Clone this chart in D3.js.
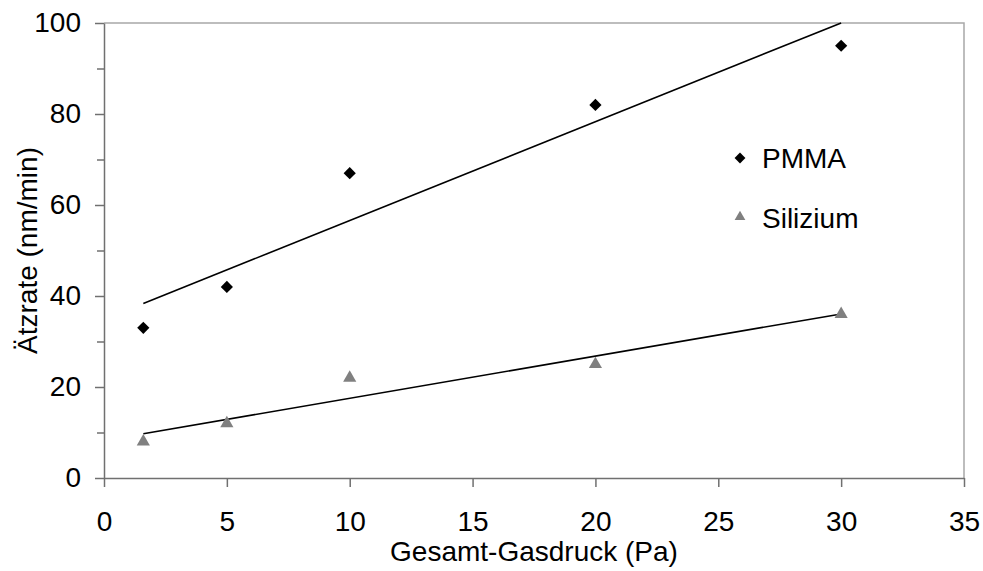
<!DOCTYPE html>
<html>
<head>
<meta charset="utf-8">
<script src="https://cdn.jsdelivr.net/npm/d3@7"></script>
<style>
  html, body { margin: 0; padding: 0; background: #fff; }
  svg { display: block; font-family: "Liberation Sans", Arial, sans-serif; }
</style>
</head>
<body>
<svg id="chart" width="983" height="571"></svg>
<script>
// Gas pressure (Pa) and etch rates (nm/min)
const pressure = [1.6, 5, 10, 20, 30];
const pmma = [33, 42, 67, 82, 95];
const silizium = [8, 12, 22, 25, 36];
const xTicks = [0, 5, 10, 15, 20, 25, 30, 35];
const yTicks = [0, 20, 40, 60, 80, 100];
const yMinorTicks = [10, 30, 50, 70, 90];

const FONT = 28;
const svg = d3.select("#chart");
const m = { left: 104, right: 964, top: 23, bottom: 478 };

const x = d3.scaleLinear().domain([0, 35]).range([m.left, m.right]);
const y = d3.scaleLinear().domain([0, 100]).range([m.bottom, m.top]);

// Plot frame: top and right edges
svg.append("path")
  .attr("d", `M${m.left},${m.top}H${m.right}V${m.bottom}`)
  .attr("fill", "none").attr("stroke", "#a8a8a8").attr("stroke-width", 1.5);

// Minor y ticks
const yMinor = svg.append("g").attr("transform", `translate(${m.left},0)`)
  .call(d3.axisLeft(y).tickValues(yMinorTicks).tickSize(7).tickFormat(""));
yMinor.select(".domain").remove();
yMinor.selectAll("line").attr("stroke", "#707070").attr("stroke-width", 1.5);

// Major y axis
const yAxis = svg.append("g").attr("transform", `translate(${m.left},0)`)
  .call(d3.axisLeft(y).tickValues(yTicks).tickSize(9).tickSizeOuter(0).tickPadding(14));
yAxis.select(".domain").attr("stroke", "#707070").attr("stroke-width", 1.5);
yAxis.selectAll("line").attr("stroke", "#707070").attr("stroke-width", 1.5);
yAxis.selectAll("text").attr("font-size", FONT).attr("fill", "#000")
  .attr("font-family", "Liberation Sans, Arial, sans-serif");

// x axis
const xAxis = svg.append("g").attr("transform", `translate(0,${m.bottom})`)
  .call(d3.axisBottom(x).tickValues(xTicks).tickSize(9).tickSizeOuter(0).tickPadding(24));
xAxis.select(".domain").attr("stroke", "#707070").attr("stroke-width", 1.5);
xAxis.selectAll("line").attr("stroke", "#707070").attr("stroke-width", 1.5);
xAxis.selectAll("text").attr("font-size", FONT).attr("fill", "#000")
  .attr("font-family", "Liberation Sans, Arial, sans-serif");

// Axis titles
svg.append("text")
  .attr("x", (m.left + m.right) / 2).attr("y", 561)
  .attr("text-anchor", "middle").attr("font-size", FONT)
  .text("Gesamt-Gasdruck (Pa)");
svg.append("text")
  .attr("transform", `translate(37,${(m.top + m.bottom) / 2}) rotate(-90)`)
  .attr("text-anchor", "middle").attr("font-size", FONT)
  .text("Ätzrate (nm/min)");

// Least-squares trend line over the measured range
function fit(xs, ys) {
  const mx = d3.mean(xs), my = d3.mean(ys);
  const sxy = d3.sum(xs, (v, i) => (v - mx) * (ys[i] - my));
  const sxx = d3.sum(xs, v => (v - mx) ** 2);
  const b = sxy / sxx, a = my - b * mx;
  const x0 = d3.min(xs), x1 = d3.max(xs);
  return [[x0, a + b * x0], [x1, a + b * x1]];
}
const line = d3.line().x(d => x(d[0])).y(d => y(d[1]));
[pmma, silizium].forEach(vals => {
  svg.append("path").attr("d", line(fit(pressure, vals)))
    .attr("fill", "none").attr("stroke", "#000").attr("stroke-width", 1.6);
});

// Markers
const diamond = d3.symbol().type(d3.symbolDiamond2).size(95);
const triangle = d3.symbol().type(d3.symbolTriangle).size(75);

svg.append("g").selectAll("path").data(silizium).join("path")
  .attr("d", triangle)
  .attr("transform", (d, i) => `translate(${x(pressure[i])},${y(d)})`)
  .attr("fill", "#808080");

svg.append("g").selectAll("path").data(pmma).join("path")
  .attr("d", diamond)
  .attr("transform", (d, i) => `translate(${x(pressure[i])},${y(d)})`)
  .attr("fill", "#000");

// Legend
const legend = svg.append("g");
legend.append("path").attr("d", d3.symbol().type(d3.symbolDiamond2).size(75))
  .attr("transform", "translate(740,158)").attr("fill", "#000");
legend.append("text").attr("x", 762).attr("y", 168).attr("font-size", FONT).text("PMMA");
legend.append("path").attr("d", d3.symbol().type(d3.symbolTriangle).size(50))
  .attr("transform", "translate(740,217)").attr("fill", "#808080");
legend.append("text").attr("x", 762).attr("y", 227.5).attr("font-size", FONT).text("Silizium");
</script>
</body>
</html>
